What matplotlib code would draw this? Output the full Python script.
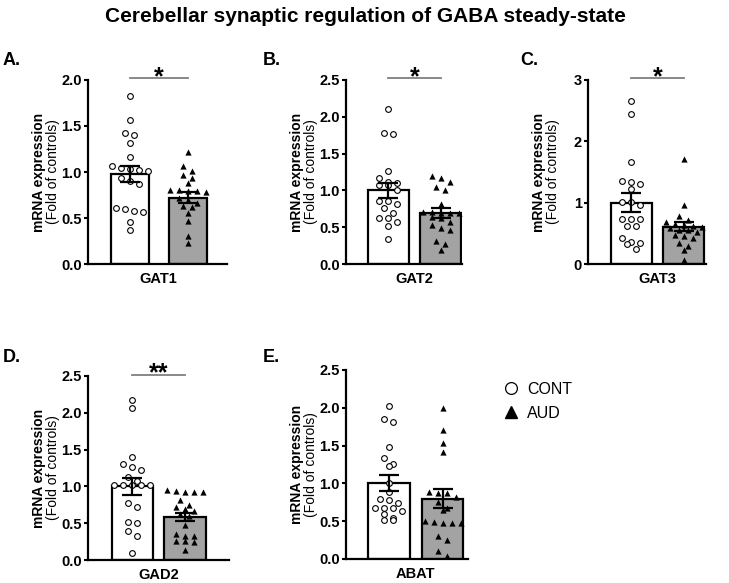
import numpy as np
import matplotlib.pyplot as plt
from matplotlib.lines import Line2D

plt.rcParams['font.family'] = ['Liberation Sans', 'DejaVu Sans']

title = 'Cerebellar synaptic regulation of GABA steady-state'
genes = ['GAT1', 'GAT2', 'GAT3', 'GAD2', 'ABAT']
letters = ['A.', 'B.', 'C.', 'D.', 'E.']
stars = ['*', '*', '*', '**', '']
y_max = [2.0, 2.5, 3.0, 2.5, 2.5]
y_step = [0.5, 0.5, 1.0, 0.5, 0.5]

# individual values, fold of controls
cont_points = [
    [1.83, 1.56, 1.42, 1.40, 1.32, 1.16, 1.07, 1.04, 1.03, 1.02, 1.01, 0.93,
     0.90, 0.87, 0.61, 0.60, 0.58, 0.57, 0.46, 0.37],
    [2.11, 1.78, 1.76, 1.26, 1.17, 1.11, 1.10, 1.07, 1.07, 1.01, 0.85, 0.85,
     0.82, 0.76, 0.69, 0.63, 0.62, 0.57, 0.51, 0.34],
    [2.66, 2.45, 1.67, 1.36, 1.33, 1.30, 1.23, 1.01, 1.01, 0.96, 0.73, 0.73,
     0.73, 0.62, 0.62, 0.43, 0.36, 0.34, 0.33, 0.24],
    [2.18, 2.06, 1.40, 1.30, 1.27, 1.22, 1.13, 1.08, 1.02, 1.02, 1.02, 1.02,
     1.02, 0.77, 0.72, 0.51, 0.50, 0.39, 0.33, 0.09],
    [2.03, 1.85, 1.81, 1.48, 1.33, 1.26, 1.23, 1.00, 0.88, 0.80, 0.78, 0.74,
     0.68, 0.68, 0.68, 0.64, 0.59, 0.54, 0.51, 0.51],
]
aud_points = [
    [1.22, 1.06, 1.01, 0.97, 0.93, 0.88, 0.80, 0.80, 0.79, 0.79, 0.78, 0.72,
     0.70, 0.66, 0.63, 0.62, 0.55, 0.47, 0.30, 0.23],
    [1.19, 1.17, 1.12, 1.05, 1.01, 0.81, 0.70, 0.70, 0.69, 0.69, 0.69, 0.64,
     0.62, 0.57, 0.53, 0.49, 0.46, 0.31, 0.27, 0.19],
    [1.72, 0.97, 0.79, 0.72, 0.69, 0.66, 0.64, 0.62, 0.60, 0.58, 0.55, 0.55,
     0.52, 0.48, 0.45, 0.42, 0.35, 0.30, 0.23, 0.07],
    [0.95, 0.94, 0.93, 0.92, 0.92, 0.81, 0.75, 0.72, 0.69, 0.66, 0.63, 0.60,
     0.47, 0.36, 0.33, 0.33, 0.26, 0.26, 0.25, 0.14],
    [2.00, 1.71, 1.53, 1.41, 0.88, 0.87, 0.87, 0.82, 0.75, 0.68, 0.65, 0.50,
     0.49, 0.48, 0.48, 0.48, 0.31, 0.25, 0.10, 0.04],
]
cont_mean = [0.98, 1.00, 1.00, 1.00, 1.00]
cont_sem = [0.09, 0.10, 0.15, 0.12, 0.105]
aud_mean = [0.72, 0.69, 0.61, 0.59, 0.80]
aud_sem = [0.06, 0.065, 0.07, 0.055, 0.12]

W, H = 729, 583
# axes boxes in pixels: left, top, right, bottom
boxes = [(88, 80, 227, 264), (346, 80, 462, 264), (588, 80, 706, 264),
         (88, 376, 229, 560), (346, 370, 468, 559)]
xlims = [(-0.716, 1.68), (-0.807, 1.41), (-0.823, 1.425),
         (-0.842, 1.838), (-0.794, 1.474)]
bar_w = [0.655, 0.79, 0.78, 0.79, 0.78]
letter_pos = [(3, 65), (263, 65), (520, 65), (3, 362), (263, 362)]


def swarm(values, ypx, xpx, step=9.0, gap=6.0, maxn=5):
    """Spread points of similar height sideways, in rows like Prism."""
    order = np.argsort(values)[::-1]
    off = np.zeros(len(values))
    rows = []
    row = [order[0]]
    for k in order[1:]:
        if (values[row[0]] - values[k]) * ypx < gap and len(row) < maxn:
            row.append(k)
        else:
            rows.append(row)
            row = [k]
    rows.append(row)
    for row in rows:
        n = len(row)
        for j, k in enumerate(row):
            off[k] = (j - (n - 1) / 2) * step / xpx
    return off


fig = plt.figure(figsize=(W / 100, H / 100), dpi=100)
fig.patch.set_facecolor('white')

for i in range(5):
    l, t, r, b = boxes[i]
    ax = fig.add_axes([l / W, 1 - b / H, (r - l) / W, (b - t) / H])
    x0, x1 = xlims[i]
    ax.set_xlim(x0, x1)
    ax.set_ylim(0, y_max[i])
    ypx = (b - t) / y_max[i]
    xpx = (r - l) / (x1 - x0)

    ax.bar([0, 1], [cont_mean[i], aud_mean[i]], width=bar_w[i],
           color=['white', '#a3a3a3'], edgecolor='black', linewidth=1.6,
           zorder=1)
    cv = np.array(cont_points[i])
    av = np.array(aud_points[i])
    ax.scatter(swarm(cv, ypx, xpx), cv, s=17, marker='o', facecolor='white',
               edgecolor='black', linewidths=0.8, zorder=3, clip_on=False)
    ax.scatter(1 + swarm(av, ypx, xpx), av, s=20, marker='^', color='black',
               linewidths=0, zorder=3, clip_on=False)
    ax.errorbar([0, 1], [cont_mean[i], aud_mean[i]],
                yerr=[cont_sem[i], aud_sem[i]], fmt='none', ecolor='black',
                elinewidth=1.6, capsize=7, capthick=1.6, zorder=4)

    for s in ['top', 'right']:
        ax.spines[s].set_visible(False)
    for s in ['left', 'bottom']:
        ax.spines[s].set_linewidth(1.6)
    ticks = np.arange(0, y_max[i] + 0.01, y_step[i])
    ax.set_yticks(ticks)
    if y_step[i] >= 1:
        ax.set_yticklabels(['%d' % v for v in ticks])
    else:
        ax.set_yticklabels(['%.1f' % v for v in ticks])
    ax.set_xticks([])
    ax.tick_params(axis='y', length=3, width=1.5, pad=1.5, labelsize=10.5)
    for lab in ax.get_yticklabels():
        lab.set_fontweight('bold')

    ax.annotate(genes[i], xy=(0.5, 0), xycoords=('data', 'axes fraction'),
                xytext=(0, -5.8), textcoords='offset points', ha='center',
                va='top', fontsize=10.5, fontweight='bold')
    # two-line y label: bold line, then plain line next to the ticks
    yc = 1 - (t + b) / 2 / H
    fig.text((l - 42) / W, yc, 'mRNA expression', rotation=90, ha='right',
             va='center', fontsize=10, fontweight='bold')
    fig.text((l - 42) / W, yc, '(Fold of controls)', rotation=90,
             ha='left', va='center', fontsize=10)

    if stars[i]:
        yl = y_max[i] + 1.5 / ypx
        ax.plot([0, 1], [yl, yl], color='#7f7f7f', lw=1.3, clip_on=False,
                zorder=5)
        ax.annotate(stars[i], xy=(0.5, yl), xytext=(0, -4),
                    textcoords='offset points', ha='center', va='baseline',
                    fontsize=18, fontweight='bold', annotation_clip=False)

    lx, ly = letter_pos[i]
    fig.text(lx / W, 1 - ly / H, letters[i], ha='left', va='baseline',
             fontsize=13, fontweight='bold')

fig.text(365 / W, 1 - 17 / H, title, ha='center', va='center', fontsize=15,
         fontweight='bold')

handles = [Line2D([], [], marker='o', ls='none', mfc='white', mec='black',
                  ms=8.5, mew=0.9),
           Line2D([], [], marker='^', ls='none', color='black', ms=8.5)]
fig.legend(handles, ['CONT', 'AUD'], loc='upper left',
           bbox_to_anchor=(503 / W, 1 - 382 / H), frameon=False,
           fontsize=11.5, handlelength=1.0, handletextpad=0.5,
           labelspacing=0.55, borderpad=0, borderaxespad=0)

fig.savefig('out.png', dpi=100, facecolor='white')
